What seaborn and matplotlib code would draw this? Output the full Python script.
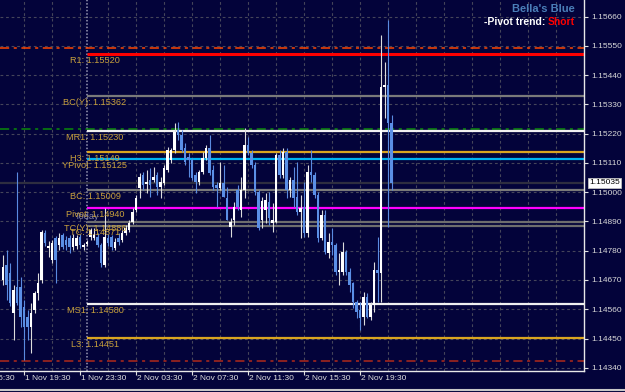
import numpy as np
import pandas as pd
import matplotlib
matplotlib.use("Agg")
import matplotlib.pyplot as plt
from matplotlib.lines import Line2D
import seaborn as sns

# ---------------- data (EURUSD M15) ----------------
opens = [1.14669, 1.14726, 1.14695, 1.14545, 1.14643, 1.14643, 1.14568, 1.14530, 1.14493, 1.14556,
         1.14620, 1.14669, 1.14846, 1.14790, 1.14744, 1.14827, 1.14801, 1.14838, 1.14820, 1.14827,
         1.14793, 1.14797, 1.14831, 1.14793, 1.14805, 1.14831, 1.14827, 1.14831, 1.14801, 1.14726,
         1.14827, 1.14831, 1.14790, 1.14827, 1.14820, 1.14846, 1.14857, 1.14887, 1.14932, 1.15015,
         1.15064, 1.15030, 1.15045, 1.15045, 1.15064, 1.15019, 1.15035, 1.15083, 1.15120, 1.15158,
         1.15233, 1.15214, 1.15166, 1.15132, 1.15120, 1.15064, 1.15038, 1.15075, 1.15128, 1.15166,
         1.15083, 1.15026, 1.15015, 1.15035, 1.14977, 1.14869, 1.14895, 1.15008, 1.14932, 1.15008,
         1.15177, 1.15147, 1.15102, 1.15000, 1.14895, 1.14932, 1.14962, 1.14884, 1.14887, 1.15139,
         1.15064, 1.15151, 1.15008, 1.15045, 1.14981, 1.14925, 1.14944, 1.14846, 1.15075, 1.15064,
         1.14990, 1.14827, 1.14914, 1.14771, 1.14812, 1.14801, 1.14699, 1.14699, 1.14774, 1.14699,
         1.14658, 1.14587, 1.14556, 1.14530, 1.14605, 1.14530, 1.14575, 1.14707, 1.14695, 1.15395,
         1.15402, 1.15260]
highs = [1.14763, 1.14782, 1.14733, 1.14650, 1.15075, 1.14680, 1.14594, 1.14556, 1.14583, 1.14628,
         1.14695, 1.14857, 1.14857, 1.14816, 1.14820, 1.14835, 1.14846, 1.14846, 1.14835, 1.14838,
         1.14842, 1.14838, 1.14842, 1.14808, 1.14820, 1.14865, 1.14865, 1.14846, 1.14808, 1.14940,
         1.14842, 1.14838, 1.14827, 1.14846, 1.14857, 1.14876, 1.14895, 1.14940, 1.14990, 1.15072,
         1.15075, 1.15083, 1.15090, 1.15094, 1.15075, 1.15057, 1.15102, 1.15169, 1.15166, 1.15260,
         1.15263, 1.15233, 1.15184, 1.15147, 1.15128, 1.15075, 1.15083, 1.15151, 1.15177, 1.15214,
         1.15102, 1.15038, 1.15113, 1.15102, 1.15019, 1.14902, 1.14962, 1.15026, 1.15057, 1.15241,
         1.15207, 1.15158, 1.15113, 1.15008, 1.14981, 1.14996, 1.15000, 1.14959, 1.15147, 1.15158,
         1.15166, 1.15166, 1.15057, 1.15094, 1.15113, 1.14990, 1.15038, 1.15102, 1.15158, 1.15075,
         1.15000, 1.14932, 1.14932, 1.14846, 1.14865, 1.14808, 1.14771, 1.14812, 1.14782, 1.14714,
         1.14662, 1.14594, 1.14587, 1.14624, 1.14620, 1.14587, 1.14737, 1.14831, 1.15590, 1.15489,
         1.15647, 1.15290]
lows = [1.14650, 1.14594, 1.14572, 1.14444, 1.14575, 1.14493, 1.14368, 1.14444, 1.14395, 1.14545,
        1.14594, 1.14658, 1.14797, 1.14756, 1.14733, 1.14658, 1.14782, 1.14786, 1.14782, 1.14771,
        1.14782, 1.14786, 1.14790, 1.14782, 1.14797, 1.14820, 1.14820, 1.14793, 1.14718, 1.14718,
        1.14797, 1.14782, 1.14782, 1.14801, 1.14812, 1.14838, 1.14850, 1.14880, 1.14925, 1.14977,
        1.15008, 1.14996, 1.14981, 1.15038, 1.14990, 1.14977, 1.15026, 1.15075, 1.15109, 1.15147,
        1.15196, 1.15151, 1.15102, 1.15057, 1.15045, 1.14996, 1.15026, 1.15068, 1.15120, 1.15064,
        1.15008, 1.14944, 1.15008, 1.14981, 1.14895, 1.14831, 1.14876, 1.14932, 1.14906, 1.14977,
        1.15139, 1.15090, 1.14990, 1.14857, 1.14865, 1.14884, 1.14876, 1.14850, 1.14884, 1.15053,
        1.15053, 1.14977, 1.14981, 1.14944, 1.14914, 1.14827, 1.14831, 1.14831, 1.15038, 1.14977,
        1.14812, 1.14820, 1.14767, 1.14752, 1.14763, 1.14688, 1.14650, 1.14688, 1.14688, 1.14624,
        1.14564, 1.14526, 1.14482, 1.14500, 1.14526, 1.14519, 1.14549, 1.14587, 1.14587, 1.15278,
        1.14869, 1.15008]
closes = [1.14718, 1.14650, 1.14583, 1.14632, 1.14583, 1.14530, 1.14493, 1.14493, 1.14545, 1.14620,
          1.14658, 1.14850, 1.14808, 1.14797, 1.14808, 1.14744, 1.14827, 1.14793, 1.14801, 1.14793,
          1.14827, 1.14827, 1.14801, 1.14801, 1.14812, 1.14857, 1.14838, 1.14801, 1.14733, 1.14831,
          1.14808, 1.14793, 1.14812, 1.14812, 1.14846, 1.14865, 1.14884, 1.14925, 1.14977, 1.15057,
          1.15026, 1.15038, 1.15026, 1.15057, 1.15019, 1.15038, 1.15090, 1.15158, 1.15158, 1.15226,
          1.15214, 1.15158, 1.15113, 1.15120, 1.15053, 1.15038, 1.15075, 1.15128, 1.15166, 1.15072,
          1.15019, 1.15015, 1.15035, 1.14981, 1.14895, 1.14887, 1.14944, 1.14944, 1.15008, 1.15177,
          1.15147, 1.15102, 1.15000, 1.14865, 1.14966, 1.14970, 1.14902, 1.14895, 1.15139, 1.15064,
          1.15151, 1.15008, 1.15045, 1.14977, 1.14925, 1.14940, 1.14846, 1.15075, 1.15064, 1.14990,
          1.14827, 1.14914, 1.14774, 1.14812, 1.14801, 1.14699, 1.14707, 1.14774, 1.14699, 1.14650,
          1.14587, 1.14549, 1.14526, 1.14605, 1.14530, 1.14575, 1.14707, 1.14695, 1.15395, 1.15402,
          1.15260, 1.15035]

start_time = "2018-11-01 18:00"
bid_price = 1.15035

# pivot levels of the current day (drawn from 2 Nov 00:00)
level_names = ["R1", "BC(Y)", "MR1", "H3", "YPivot", "BC", "Pivot", "TC(Y)", "TC", "MS1", "L3"]
level_values = [1.15520, 1.15362, 1.15230, 1.15149, 1.15125, 1.15009, 1.14940, 1.14886, 1.14871, 1.14580, 1.14451]
level_colors = ["#ff0000", "#7a7a7a", "#f0f0f0", "#daa520", "#00b4f0", "#7a7a7a", "#ff00ff",
                "#6e6e6e", "#6e6e6e", "#f0f0f0", "#daa520"]
level_widths = [2.2, 1.6, 1.6, 1.6, 1.6, 1.6, 1.6, 1.6, 1.6, 1.6, 1.6]

# full-width lines
full_values = [1.15540, 1.15239, 1.14365]
full_colors = ["#ff4500", "#0a8a0a", "#b02a1a"]

y_ticks = [1.14340, 1.14450, 1.14560, 1.14670, 1.14780, 1.14890, 1.15000,
           1.15110, 1.15220, 1.15330, 1.15440, 1.15550, 1.15660]
x_label_times = ["2018-11-01 15:30", "2018-11-01 19:30", "2018-11-01 23:30", "2018-11-02 03:30",
                 "2018-11-02 07:30", "2018-11-02 11:30", "2018-11-02 15:30", "2018-11-02 19:30"]

# ---------------- style ----------------
BG = "#03033a"
sns.set_style("dark", {"axes.facecolor": BG, "figure.facecolor": BG})
plt.rcParams["font.family"] = ["Liberation Sans", "DejaVu Sans"]

fig = plt.figure(figsize=(6.25, 3.92), dpi=100, facecolor=BG)
ax = fig.add_axes([0, 1 - 371 / 392, 584 / 625, 371 / 392])
ax.set_facecolor(BG)

day0 = pd.Timestamp("2018-11-01 00:00")
times = pd.date_range(start_time, periods=len(opens), freq="15min")
hrs = np.asarray((times - day0) / pd.Timedelta(hours=1), dtype=float)

x_lo, x_hi = 17.7857, 59.5
y_lo, y_hi = 1.14328, 1.15722
ax.set_xlim(x_lo, x_hi)
ax.set_ylim(y_lo, y_hi)

# grid
grid_col = "#45455a"
for yt in y_ticks:
    ax.axhline(yt, color=grid_col, lw=0.8, ls=(0, (2.5, 2.5)), zorder=0)
grid_start = (pd.Timestamp("2018-11-01 17:30") - day0) / pd.Timedelta(hours=1)
g = grid_start
while g < x_hi:
    ax.axvline(g, color=grid_col, lw=0.8, ls=(0, (2.5, 2.5)), zorder=0)
    g += 2

# period separator at day start
sep = (pd.Timestamp("2018-11-02 00:00") - day0) / pd.Timedelta(hours=1)
ax.axvline(sep, color="#9a9ab4", lw=1.1, ls=(0, (1, 1.2)), zorder=1)

# full width lines
for v, c in zip(full_values, full_colors):
    ax.axhline(v, color=c, lw=1.1, ls=(0, (6, 3, 2, 3)), zorder=2)
ax.axhline(bid_price, color="#2e2e40", lw=1.6, zorder=2)

# day levels
for n, v, c, w in zip(level_names, level_values, level_colors, level_widths):
    ax.hlines(v, sep, x_hi, color=c, lw=w, zorder=2)

# candles
o = np.array(opens); h = np.array(highs); l = np.array(lows); c = np.array(closes)
up = c >= o
wick_cols = np.where(up, "#dcdcdc", "#5a8ae0")
body_cols = np.where(up, "#ffffff", "#5b8fe6")
ax.vlines(hrs, l, h, colors=wick_cols, lw=0.8, zorder=3)
bottom = np.minimum(o, c)
height = np.maximum(np.abs(c - o), 0.00004)
ax.bar(hrs, height, bottom=bottom, width=0.17, color=body_cols, linewidth=0, zorder=4)

# level labels
lab_x = 24.57
for n, v in zip(level_names, level_values):
    ax.annotate(f"{n}: {v:.5f}", xy=(lab_x, v), xytext=(0, -6.5), textcoords="offset pixels",
                ha="center", va="center", color="#c8a03c", fontsize=6.6, zorder=6)
ax.text(24.0, 1.14910, "Today", ha="center", va="center", color="#8585a5", fontsize=6.6, zorder=5)

# axes / ticks
for s in ["top", "left"]:
    ax.spines[s].set_visible(False)
for s in ["right", "bottom"]:
    ax.spines[s].set_visible(True)
    ax.spines[s].set_color("#e8e8e8")
    ax.spines[s].set_linewidth(1.0)
ax.yaxis.tick_right()
ax.set_yticks(y_ticks)
ax.set_yticklabels([f"{t:.5f}" for t in y_ticks])
ax.tick_params(axis="y", colors="#e0e0e0", labelsize=6, length=3, width=0.8, pad=2,
               labelcolor="#d8d8d8", right=True, left=False)
lt = [(pd.Timestamp(s) - day0) / pd.Timedelta(hours=1) for s in x_label_times]
in_lt = [t for t in lt if x_lo <= t <= x_hi]
ax.set_xticks(in_lt)
ax.set_xticklabels([])
ax.tick_params(axis="x", colors="#e0e0e0", length=3, width=0.8, bottom=True)
for s, t in zip(x_label_times, lt):
    ts = pd.Timestamp(s)
    ax.annotate(f"{ts.day} {ts.strftime('%b %H:%M')}", xy=(t, 0), xycoords=("data", "axes fraction"),
                xytext=(1, -8), textcoords="offset pixels", ha="left", va="center",
                color="#e0e0e0", fontsize=6, annotation_clip=False)
ax.set_xlabel(""); ax.set_ylabel("")

# current price box
ax.annotate(f"{bid_price:.5f}", xy=(1, bid_price), xycoords=("axes fraction", "data"),
            xytext=(5, 0), textcoords="offset pixels", ha="left", va="center", fontsize=6,
            color="black", annotation_clip=False,
            bbox=dict(boxstyle="square,pad=0.15", fc="white", ec="#c0c0c0", lw=0.6), zorder=10)

# top right info text
fig.text(575 / 625, 1 - 9 / 392, "Bella's Blue", ha="right", va="center", color="#4a7eb8",
         fontsize=8, fontweight="bold")
short = fig.text(575 / 625, 1 - 22 / 392, "Short", ha="right", va="center", color="#ff0000",
                 fontsize=7.5, fontweight="bold")
ax.annotate("-Pivot trend: ", xy=(0, 0.5), xycoords=short, ha="right", va="center",
            color="white", fontsize=7.5, fontweight="bold", annotation_clip=False)

# window bottom border
fig.add_artist(Line2D([0, 1], [1 - 389.5 / 392] * 2, transform=fig.transFigure, color="#c8c8c8", lw=1.5))

fig.savefig("out.png", dpi=100, facecolor=BG)
